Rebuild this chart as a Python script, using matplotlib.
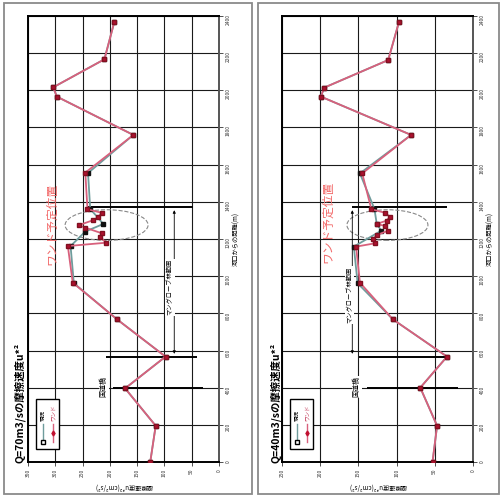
import matplotlib
matplotlib.use('Agg')
import matplotlib.pyplot as plt
from matplotlib.patches import Ellipse, Rectangle

plt.rcParams['font.family'] = ['Noto Sans CJK JP', 'DejaVu Sans']

# 河口からの距離(m) と 摩擦速度u*² の読み取り値
# Q=70m3/s
dist70_now = [0, 195, 396, 567, 768, 962, 1162, 1240, 1281, 1362, 1555, 1760, 1966, 2016, 2167, 2366]
val70_now = [126, 116, 172, 98, 187, 266, 272, 245, 212, 236, 240, 157, 297, 304, 210, 192]
dist70_wand = [0, 195, 396, 567, 768, 965, 1162, 1180, 1212, 1231, 1261, 1275,
               1302, 1320, 1341, 1360, 1557, 1760, 1966, 2016, 2167, 2366]
val70_wand = [126, 116, 172, 98, 187, 268, 277, 207, 218, 215, 245, 256,
              230, 221, 215, 241, 245, 157, 297, 304, 210, 192]

# Q=40m3/s
dist40_now = [0, 195, 400, 567, 768, 962, 1159, 1245, 1281, 1362, 1553, 1760, 1966, 2014, 2163, 2366]
val40_now = [53, 47, 69, 34, 105, 151, 156, 120, 126, 129, 148, 81, 199, 195, 111, 97]
dist40_wand = [0, 195, 400, 567, 768, 965, 1159, 1177, 1198, 1221, 1245, 1270,
               1281, 1299, 1320, 1341, 1360, 1553, 1760, 1966, 2014, 2163, 2366]
val40_wand = [53, 47, 69, 34, 105, 148, 153, 128, 131, 126, 111, 115,
              126, 113, 109, 115, 133, 145, 81, 199, 195, 111, 97]

series_labels = ['現況', 'ワンド']
titles = ['Q=70m3/sの摩擦速度u*²', 'Q=40m3/sの摩擦速度u*²']
value_max = [350, 250]
dist_max = 2400

# 境界線 (距離, 値の範囲)
bound70 = [(1370, 48, 242), (567, 40, 207), (396, 29, 194)]
bound40 = [(1370, 34, 159), (567, 30, 149), (396, 19, 139)]
# マングローブ林範囲の矢印 (値, 下端, 上端)
mangrove70 = (82, 567, 1370)
mangrove40 = (158, 567, 1370)
# ワンド予定位置の楕円 (中心値, 中心距離, 幅, 高さ)
wand70 = (206, 1275, 152, 165)
wand40 = (112, 1275, 106, 165)
# 文字の位置
bridge_pos = [(211, 405), (152, 405)]
mang_text_pos = [(90, 940), (162, 900)]
wand_text_pos = [(306, 1280), (190, 1290)]


def draw_panel(ax, d_now, v_now, d_wand, v_wand, vmax, bounds, mang, wand,
               bridge, mtext, wtext):
    ax.set_xlim(vmax, 0)
    ax.set_ylim(0, dist_max)
    ax.set_xticks(range(0, vmax + 1, 50))
    ax.set_yticks(range(0, dist_max + 1, 200))
    ax.yaxis.tick_right()
    ax.tick_params(axis='both', labelsize=3.5, length=3, width=0.6,
                   labelrotation=90, pad=2, colors='#333333')
    ax.grid(True, color='#1a1a1a', lw=0.8)
    for s in ax.spines.values():
        s.set_color('black')
        s.set_linewidth(1.4)
    ax.spines['right'].set_color('#555555')

    # 境界線
    for d, v0, v1 in bounds:
        ax.hlines(d, v0, v1, color='black', lw=1.4, zorder=4)

    # 系列
    ax.plot(v_now, d_now, color='#6f9c9c', lw=1.3, marker='s', ms=2.6,
            mfc='#111111', mec='#111111', zorder=5)
    ax.plot(v_wand, d_wand, color='#d8607c', lw=1.3, marker='s', ms=2.8,
            mfc='#b01030', mec='#801020', zorder=6)

    # ワンド予定位置
    ax.add_patch(Ellipse((wand[0], wand[1]), wand[2], wand[3], fill=False,
                         ls='--', lw=0.8, ec='#888888', zorder=3))
    ax.text(wtext[0], wtext[1], 'ワンド予定位置', rotation=90, color='#f26a6a',
            fontsize=8.5, ha='center', va='center', zorder=7)

    # マングローブ林範囲
    ax.annotate('', xy=(mang[0], mang[1]), xytext=(mang[0], mang[2]),
                arrowprops=dict(arrowstyle='<|-|>', lw=0.6, color='black',
                                mutation_scale=4), zorder=4)
    ax.text(mtext[0], mtext[1], 'マングローブ林範囲', rotation=90, fontsize=4.5,
            ha='center', va='center', zorder=7,
            bbox=dict(fc='white', ec='none', pad=0.5))
    ax.text(bridge[0], bridge[1], '国道橋', rotation=90, fontsize=5,
            ha='center', va='center', zorder=7,
            bbox=dict(fc='white', ec='none', pad=0.5))

    # 軸ラベル
    ax.text(1.09, 0.5, '河口からの距離(m)', transform=ax.transAxes, rotation=90,
            fontsize=4.5, ha='center', va='center')
    ax.text(0.5, -0.055, '摩擦速度u*²(cm²/s²)', transform=ax.transAxes,
            rotation=180, fontsize=4.5, ha='center', va='center')

    # 凡例
    ax.add_patch(Rectangle((0.042, 0.029), 0.122, 0.112, transform=ax.transAxes,
                           fc='white', ec='black', lw=1.0, zorder=8))
    ax.plot([0.079, 0.079], [0.045, 0.085], transform=ax.transAxes,
            color='#6f9c9c', lw=1.0, marker='s', ms=2.2, markevery=[0],
            mfc='white', mec='black', zorder=9)
    ax.plot([0.131, 0.131], [0.045, 0.085], transform=ax.transAxes,
            color='#d8607c', lw=1.0, zorder=9)
    ax.plot([0.131], [0.065], transform=ax.transAxes, marker='d', ms=2.5,
            color='#c01030', zorder=9)
    ax.text(0.079, 0.092, series_labels[0], transform=ax.transAxes, rotation=90,
            fontsize=4, ha='center', va='bottom', zorder=9)
    ax.text(0.131, 0.092, series_labels[1], transform=ax.transAxes, rotation=90,
            fontsize=4, ha='center', va='bottom', zorder=9, color='#c03050')


W, H = 502, 497
fig = plt.figure(figsize=(W / 100, H / 100), dpi=100)

# パネルの枠
for x0, x1 in [(4, 252), (258, 499)]:
    fig.add_artist(Rectangle((x0 / W, 1 - 494 / H), (x1 - x0) / W, 491 / H,
                             transform=fig.transFigure, fill=False,
                             ec='#8a8a8a', lw=1.3))

ax1 = fig.add_axes([28 / W, 1 - 462 / H, 191 / W, 446 / H])
ax2 = fig.add_axes([282 / W, 1 - 462 / H, 191 / W, 446 / H])

draw_panel(ax1, dist70_now, val70_now, dist70_wand, val70_wand, value_max[0],
           bound70, mangrove70, wand70, bridge_pos[0], mang_text_pos[0],
           wand_text_pos[0])
draw_panel(ax2, dist40_now, val40_now, dist40_wand, val40_wand, value_max[1],
           bound40, mangrove40, wand40, bridge_pos[1], mang_text_pos[1],
           wand_text_pos[1])

fig.text(20 / W, 1 - 463 / H, titles[0], rotation=90, fontsize=7.5,
         fontweight='bold', ha='center', va='bottom')
fig.text(276 / W, 1 - 463 / H, titles[1], rotation=90, fontsize=7.5,
         fontweight='bold', ha='center', va='bottom')

fig.savefig('out.png', dpi=100)
